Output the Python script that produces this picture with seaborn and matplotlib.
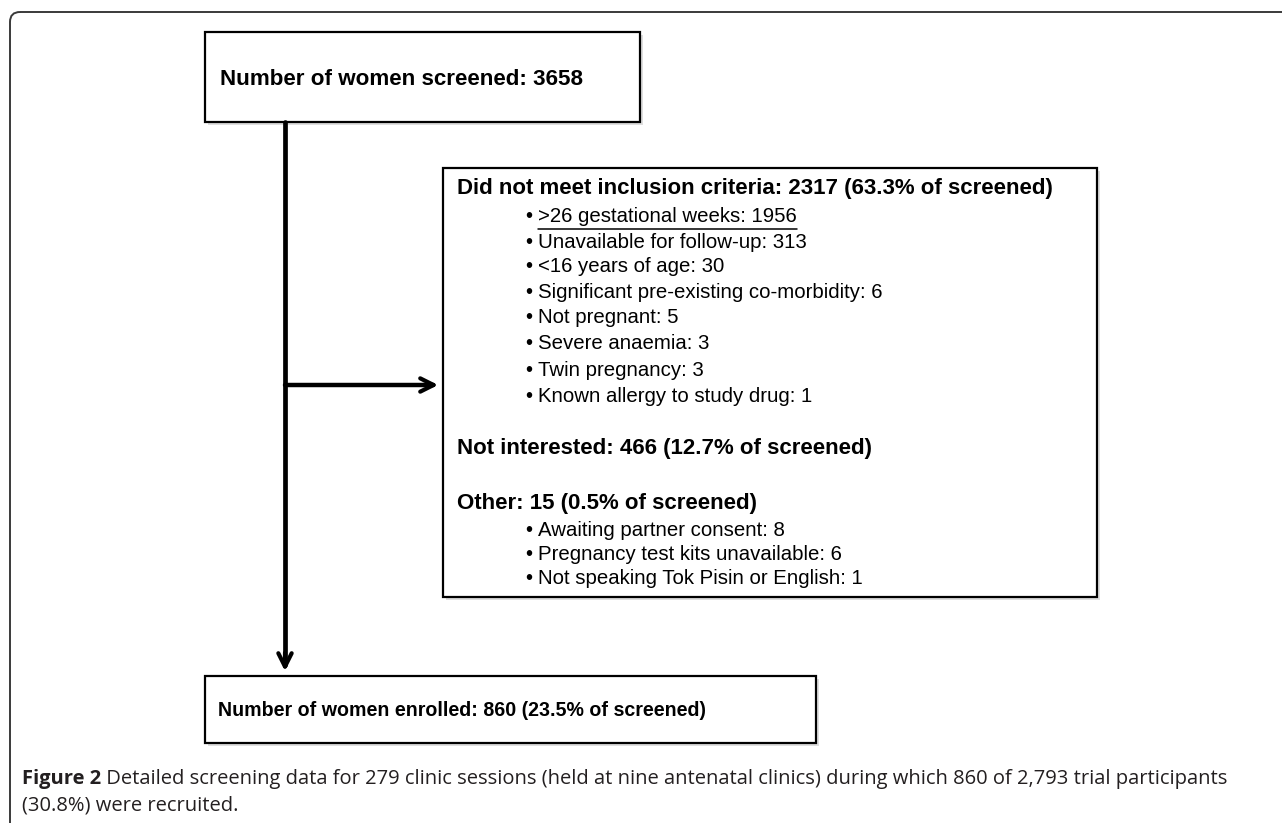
import matplotlib
matplotlib.use("Agg")
import matplotlib.pyplot as plt
import seaborn as sns
import pandas as pd
from matplotlib.patches import Rectangle, FancyBboxPatch
from matplotlib import font_manager

# -------- DATA --------
screened = 3658
excl_total = 2317
excl_pct = 63.3
excl_reasons = [">26 gestational weeks", "Unavailable for follow-up", "<16 years of age",
                "Significant pre-existing co-morbidity", "Not pregnant", "Severe anaemia",
                "Twin pregnancy", "Known allergy to study drug"]
excl_counts = [1956, 313, 30, 6, 5, 3, 3, 1]
not_interested = 466
not_interested_pct = 12.7
other_total = 15
other_pct = 0.5
other_reasons = ["Awaiting partner consent", "Pregnancy test kits unavailable",
                 "Not speaking Tok Pisin or English"]
other_counts = [8, 6, 1]
enrolled = 860
enrolled_pct = 23.5
caption_bold = "Figure 2"
caption_rest = [" Detailed screening data for 279 clinic sessions (held at nine antenatal clinics) during which 860 of 2,793 trial participants",
                "(30.8%) were recruited."]

# -------- SETUP --------
sns.set_theme(style="white")
plt.rcParams['font.family'] = ['Liberation Sans', 'DejaVu Sans']
plt.rcParams['text.color'] = 'black'

installed = {f.name for f in font_manager.fontManager.ttflist}
narrow = 'Liberation Sans Narrow' if 'Liberation Sans Narrow' in installed else 'Liberation Sans'

W, H = 1282, 823
fig = plt.figure(figsize=(W / 100, H / 100), dpi=100)
ax = fig.add_axes([0, 0, 1, 1])

# outer frame (rounded top-left corner, runs off the page right and bottom)
frame = FancyBboxPatch((10, 12), 1400, 900, boxstyle="round,pad=0,rounding_size=10",
                       fill=False, ec="#3a3a3a", lw=1.4, zorder=1)
ax.add_patch(frame)


def box(x0, y0, x1, y1):
    ax.add_patch(Rectangle((x0 + 3, y0 + 3), x1 - x0, y1 - y0, fc="#c8c8c8", ec="none",
                           alpha=0.6, zorder=2))
    ax.add_patch(Rectangle((x0, y0), x1 - x0, y1 - y0, fc="white", ec="black",
                           lw=1.6, zorder=3))


box(205, 32, 640, 122)
box(443, 168, 1097, 597)
box(205, 676, 816, 743)

# connectors drawn through seaborn
sns.lineplot(data=pd.DataFrame({"x": [285, 285], "y": [122, 665]}), x="x", y="y",
             color="black", lw=3.4, sort=False, estimator=None, ax=ax, zorder=4)
sns.lineplot(data=pd.DataFrame({"x": [285, 433], "y": [385, 385]}), x="x", y="y",
             color="black", lw=3.2, sort=False, estimator=None, ax=ax, zorder=4)
ax.annotate("", xy=(285, 674), xytext=(285, 650),
            arrowprops=dict(arrowstyle="->,head_length=0.8,head_width=0.4", lw=3, color="black"),
            zorder=5)
ax.annotate("", xy=(441, 385), xytext=(420, 385),
            arrowprops=dict(arrowstyle="->,head_length=0.8,head_width=0.4", lw=3, color="black"),
            zorder=5)
ax.set_xlim(0, W)
ax.set_ylim(H, 0)
ax.axis('off')

mid_bold = 16
reg_size = 14.7

ax.text(220, 79, f"Number of women screened: {screened}", fontsize=16.1,
        fontweight="bold", va="center", ha="left", zorder=6)

ax.text(457, 188, f"Did not meet inclusion criteria: {excl_total} ({excl_pct}% of screened)",
        fontsize=mid_bold, fontweight="bold", va="center", zorder=6)
excl_y = [216, 242, 267, 292, 317, 343, 370, 396]
item_texts = []
for yy, r, c in zip(excl_y, excl_reasons, excl_counts):
    ax.text(525, yy, "•", fontsize=reg_size, va="center", zorder=6)
    item_texts.append(ax.text(538, yy, f"{r}: {c}", fontsize=reg_size, va="center", zorder=6))

ax.text(457, 448, f"Not interested: {not_interested} ({not_interested_pct}% of screened)",
        fontsize=mid_bold, fontweight="bold", va="center", zorder=6)
ax.text(457, 503, f"Other: {other_total} ({other_pct}% of screened)",
        fontsize=mid_bold, fontweight="bold", va="center", zorder=6)
other_y = [530, 554, 578]
for yy, r, c in zip(other_y, other_reasons, other_counts):
    ax.text(525, yy, "•", fontsize=reg_size, va="center", zorder=6)
    ax.text(538, yy, f"{r}: {c}", fontsize=reg_size, va="center", zorder=6)

enr = ax.text(218, 710, f"Number of women enrolled: {enrolled} ({enrolled_pct}% of screened)",
              fontsize=16.5, fontweight="bold", va="center", zorder=6,
              family=[narrow, 'DejaVu Sans'])

# caption
cap_font = ['Open Sans', 'DejaVu Sans']
cap_color = "#231f20"
cap_size = 14.5
fb = ax.text(22, 779, caption_bold, fontsize=cap_size, fontweight="bold", va="center",
             family=cap_font, color=cap_color)
ax.text(22, 805, caption_rest[1], fontsize=cap_size, va="center", family=cap_font, color=cap_color)

fig.canvas.draw()
r = fig.canvas.get_renderer()
# fit the enrolled line to its width in the reference
eb = enr.get_window_extent(r).transformed(ax.transData.inverted())
enr.set_fontsize(16.5 * (703 - 218) / (eb.x1 - eb.x0))

bb = fb.get_window_extent(r).transformed(ax.transData.inverted())
ax.text(bb.x1, 779, caption_rest[0], fontsize=cap_size, va="center", family=cap_font, color=cap_color)

# underline first exclusion item
ub = item_texts[0].get_window_extent(r).transformed(ax.transData.inverted())
ax.plot([ub.x0, ub.x1], [229, 229], color="black", lw=1.1, zorder=6)

fig.savefig("out.png", dpi=100)
